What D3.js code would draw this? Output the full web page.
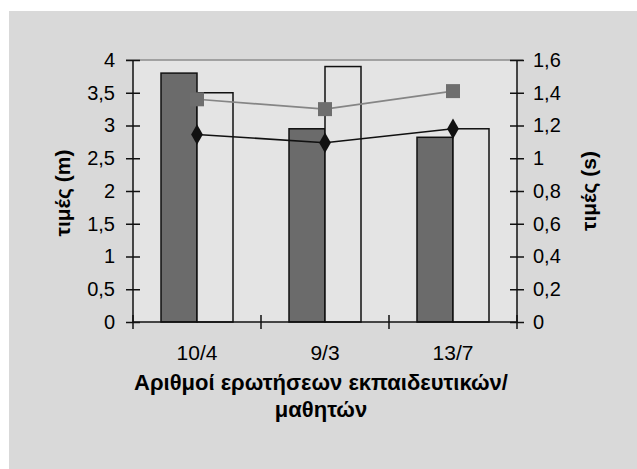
<!DOCTYPE html>
<html><head><meta charset="utf-8">
<script src="https://cdn.jsdelivr.net/npm/d3@7"></script>
<style>
html,body{margin:0;padding:0;background:#fff;}
svg{display:block;}
text{font-family:"Liberation Sans",Arial,sans-serif;fill:#000;}
</style></head>
<body>
<svg id="c" width="637" height="469"></svg>
<script>
// ---- data ----
const categories = ["10/4", "9/3", "13/7"];
const seriesNames = ["m1", "m2"];
const barDark = [3.8, 2.95, 2.82];      // left axis (m)
const barLight = [3.5, 3.9, 2.95];      // left axis (m)
const lineGray = [1.36, 1.30, 1.41];    // right axis (s), squares
const lineBlack = [1.145, 1.095, 1.18]; // right axis (s), diamonds
const leftTicks = [0, 0.5, 1, 1.5, 2, 2.5, 3, 3.5, 4];
const rightTicks = [0, 0.2, 0.4, 0.6, 0.8, 1, 1.2, 1.4, 1.6];
const xTitle = ["Αριθμοί ερωτήσεων εκπαιδευτικών/", "μαθητών"];
const yLeftTitle = "τιμές (m)";
const yRightTitle = "τιμές (s)";

const svg = d3.select("#c");
const L = 133, R = 517, T = 60, B = 322;
const grLocale = d3.formatLocale({decimal: ",", thousands: ".", grouping: [3], currency: ["", "€"]});
const fmt = grLocale.format("~g");

svg.append("rect").attr("x", 9).attr("y", 11).attr("width", 637 - 9).attr("height", 469 - 11).attr("fill", "#d9d9d9");
svg.append("rect").attr("x", L).attr("y", T).attr("width", R - L).attr("height", B - T).attr("fill", "#e4e4e4");

const x0 = d3.scaleBand().domain(categories).range([L, R]).padding(0);
const x1 = d3.scaleBand().domain(seriesNames).range([28, 100]).padding(0);
const yL = d3.scaleLinear().domain([0, 4]).range([B, T]);
const yR = d3.scaleLinear().domain([0, 1.6]).range([B, T]);

// top border
svg.append("line").attr("x1", 126).attr("x2", 523).attr("y1", yL(4)).attr("y2", yL(4))
  .attr("stroke", "#8c8c8c").attr("stroke-width", 1.5);

// bars
const g = svg.append("g");
categories.forEach((c, i) => {
  const vals = [barDark[i], barLight[i]];
  const fills = ["#6b6b6b", "#e4e4e4"];
  seriesNames.forEach((s, j) => {
    g.append("rect")
      .attr("x", x0(c) + x1(s)).attr("width", x1.bandwidth())
      .attr("y", yL(vals[j])).attr("height", yL(0) - yL(vals[j]))
      .attr("fill", fills[j]).attr("stroke", "#111").attr("stroke-width", 1.5);
  });
});

// axes
const axL = svg.append("g").attr("transform", `translate(${L},0)`)
  .call(d3.axisLeft(yL).tickValues(leftTicks).tickFormat(fmt).tickSize(7).tickPadding(11));
axL.selectAll(".tick line").attr("x1", 7).attr("x2", -7);
const axR = svg.append("g").attr("transform", `translate(${R},0)`)
  .call(d3.axisRight(yR).tickValues(rightTicks).tickFormat(fmt).tickSize(7).tickPadding(9));
axR.selectAll(".tick line").attr("x1", -7).attr("x2", 7);
const axB = svg.append("g").attr("transform", `translate(0,${B})`)
  .call(d3.axisBottom(x0).tickSize(0).tickPadding(23));
[L, ...categories.slice(1).map(c => x0(c)), R].forEach(xx => {
  svg.append("line").attr("x1", xx).attr("x2", xx).attr("y1", B - 7).attr("y2", B + 7)
    .attr("stroke", "#111").attr("stroke-width", 1.5);
});
[axL, axR, axB].forEach(a => {
  a.selectAll(".domain").attr("stroke", "#111").attr("stroke-width", 1.5);
  a.selectAll(".tick line").attr("stroke", "#111").attr("stroke-width", 1.5);
  a.selectAll("text").attr("font-size", 20).attr("font-family", "Liberation Sans, Arial, sans-serif").attr("fill", "#111");
});
axB.selectAll("text").attr("font-size", 21);
axL.select(".domain").attr("d", `M0,${T}V${B}`);
axR.select(".domain").attr("d", `M0,${T}V${B}`);
axB.select(".domain").attr("d", `M${L},0H${R}`);

// lines
const cx = c => x0(c) + x0.bandwidth() / 2;
const lineG = d3.line().x((d, i) => cx(categories[i])).y(d => yR(d));
svg.append("path").attr("d", lineG(lineGray)).attr("fill", "none").attr("stroke", "#858585").attr("stroke-width", 1.6);
svg.append("path").attr("d", lineG(lineBlack)).attr("fill", "none").attr("stroke", "#111").attr("stroke-width", 1.6);
const sq = d3.symbol().type(d3.symbolSquare).size(196);
const dm = d3.symbol().type(d3.symbolDiamond).size(120);
lineGray.forEach((v, i) => {
  svg.append("path").attr("d", sq()).attr("transform", `translate(${cx(categories[i])},${yR(v)})`).attr("fill", "#6e6e6e");
});
lineBlack.forEach((v, i) => {
  svg.append("path").attr("d", dm()).attr("transform", `translate(${cx(categories[i])},${yR(v)})`).attr("fill", "#111");
});

// titles
svg.append("text").attr("transform", "translate(70,193) rotate(-90)").attr("text-anchor", "middle")
  .attr("font-size", 21).attr("font-weight", "bold").text(yLeftTitle);
svg.append("text").attr("transform", "translate(596,191) rotate(-90)").attr("text-anchor", "middle")
  .attr("font-size", 21).attr("font-weight", "bold").text(yRightTitle);
xTitle.forEach((t, i) => {
  svg.append("text").attr("x", 321).attr("y", 390 + i * 27).attr("text-anchor", "middle")
    .attr("font-size", 22).attr("font-weight", "bold").text(t);
});
</script>
</body></html>
